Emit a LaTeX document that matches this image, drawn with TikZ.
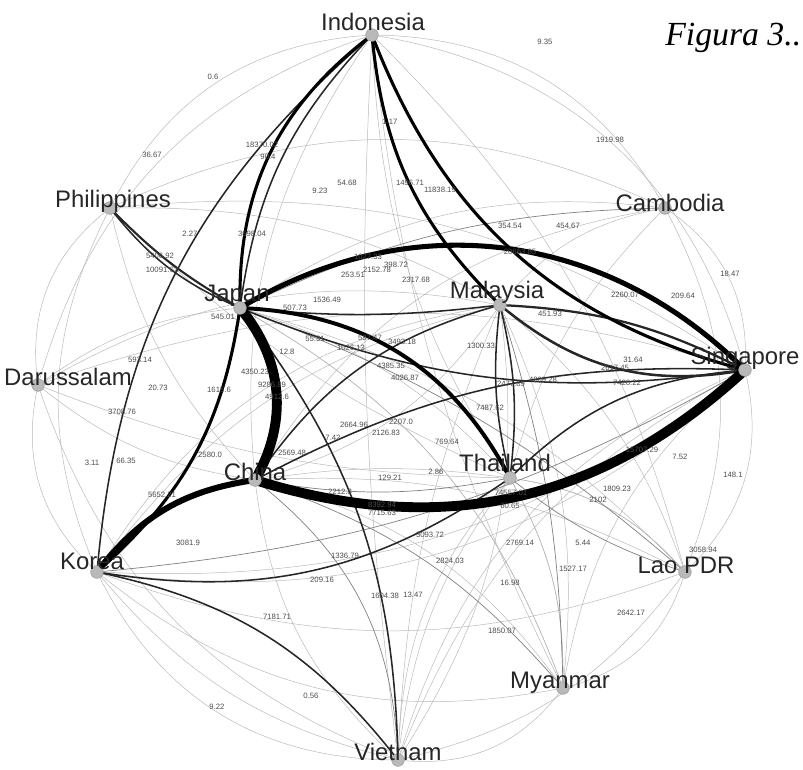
\documentclass[tikz,border=0pt]{standalone}
\usepackage{fontspec}
\setmainfont{Liberation Sans}
\newfontfamily\figfont{Liberation Serif}
\usetikzlibrary{positioning}
\tikzset{every picture/.style={
  line cap=round                % Rounded edge ends.
  }
}

\begin{document}
\begin{tikzpicture}[
    x=0.025cm, y=-0.025cm,
    country/.style={            % Grey dots marking the countries.
      circle,
      fill=gray!55,
      draw=gray!75,
      minimum size=9pt,
      inner sep=0pt
    },
    cname/.style={              % Country names.
      font=\fontsize{17}{20}\selectfont,
      text=black!85,
      inner sep=0pt
    },
    wlabel/.style={             % Small edge weights.
      font=\fontsize{5.5}{6}\selectfont,
      text=black!70,
      inner sep=0.3pt
    },
    tiefaint/.style={draw=black!28, line width=0.35pt},
    tielight/.style={draw=black!50, line width=0.5pt},
    tiemid/.style={draw=black!85, line width=1.1pt},
    tiestrong/.style={draw=black, line width=2.2pt},
    tieheavy/.style={draw=black, line width=3.6pt},
    tiehuge/.style={draw=black, line width=7pt}]

    \useasboundingbox (0,0) rectangle (803,770);

    % Where the countries sit.
    \coordinate (ind) at (372,35);
    \coordinate (cam) at (665,208);
    \coordinate (phi) at (110,208);
    \coordinate (jap) at (240,308);
    \coordinate (mal) at (500,305);
    \coordinate (dar) at (38,385);
    \coordinate (sin) at (745,370);
    \coordinate (chi) at (255,480);
    \coordinate (tha) at (510,478);
    \coordinate (kor) at (97,572);
    \coordinate (lao) at (685,572);
    \coordinate (mya) at (563,688);
    \coordinate (vie) at (398,760);

    % Weak flows.
    \foreach \s/\t/\b in {ind/phi/30, ind/dar/28, cam/ind/30, sin/ind/33,
        phi/dar/30, dar/kor/30, kor/vie/32, kor/vie/18, vie/mya/30,
        mya/lao/30, lao/sin/30, sin/cam/30, phi/kor/25, phi/chi/15,
        phi/mal/-15, phi/sin/-20, phi/tha/10, phi/cam/-25, dar/jap/-15,
        dar/chi/15, dar/mal/-20, dar/sin/-18, dar/tha/10, dar/vie/25,
        kor/mya/25, kor/lao/20, kor/sin/20, kor/mal/-20, vie/chi/-20,
        vie/tha/-15, vie/sin/-25, vie/lao/20, vie/mal/-10, mya/chi/20,
        mya/tha/15, mya/jap/20, mya/sin/-20, mya/mal/15, lao/chi/15,
        lao/tha/20, lao/jap/15, lao/mal/15, lao/cam/25, cam/mal/20,
        cam/jap/20, cam/chi/25, cam/tha/15, ind/chi/20, ind/tha/15,
        ind/mya/10, ind/vie/5, ind/lao/-15, jap/mya/-20, chi/tha/-8,
        jap/tha/-15, mal/chi/-20, mal/kor/25, sin/kor/-25, sin/vie/20,
        tha/lao/-20, tha/mya/-15, tha/vie/20, mal/vie/-20}
      \draw[tiefaint] (\s) to[bend right=\b] (\t);
    \foreach \s/\t/\b in {chi/vie/-25, kor/sin/12, jap/lao/-10,
        chi/mya/-15, tha/lao/10, jap/cam/-12, mal/mya/-8, chi/tha/10}
      \draw[tielight] (\s) to[bend right=\b] (\t);

    % Medium flows.
    \draw[tiemid] (ind) to[bend right=18] (jap);
    \draw[tiemid, line width=1.8pt] (mal) to[bend right=25] (sin);
    \draw[tiemid, line width=1.6pt] (mal) to[bend left=12] (sin);
    \draw[tiemid, line width=1.5pt] (phi) to[bend right=8] (jap);
    \draw[tiemid] (phi) to[bend right=14] (jap);
    \draw[tiemid] (kor) to[bend left=20] (vie);
    \draw[tiemid] (jap) to[bend left=18] (vie);
    \draw[tiemid] (ind) to[bend right=22] (kor);
    \draw[tiemid] (mal) to[bend left=10] (tha);
    \draw[tiemid] (mal) to[bend right=10] (tha);
    \draw[tiemid] (tha) to[bend left=20] (sin);
    \draw[tiemid] (chi) to[bend left=15] (sin);
    \draw[tiemid] (kor) to[bend right=22] (tha);
    \draw[tiemid] (jap) to[bend right=6] (mal);
    \draw[tiemid] (chi) to[bend left=20] (mal);
    \draw[tiemid] (jap) to[bend right=15] (sin);

    % Strong flows.
    \draw[tiestrong] (jap) to[bend left=20] (kor);
    \draw[tiestrong] (ind) to[bend right=27] (jap);
    \draw[tiestrong] (ind) to[bend right=27] (sin);
    \draw[tiestrong] (ind) to[bend right=20] (mal);
    \draw[tiestrong, line width=2.8pt] (jap) to[bend left=30] (tha);
    \draw[tieheavy] (jap) to[bend left=38] (sin);
    \draw[tieheavy, line width=4.3pt] (chi) to[bend right=22] (kor);
    \draw[tiehuge] (jap) to[bend left=35] (chi);
    \draw[tiehuge] (chi) to[bend right=30] (sin);

    % The country dots and names.
    \foreach \c in {ind,cam,phi,jap,mal,dar,sin,chi,tha,kor,lao,mya,vie}
      \node[country] (\c dot) at (\c) {};
    \node[cname] (indname) at (373,22)  {Indonesia};
    \node[cname] (camname) at (670,203) {Cambodia};
    \node[cname] (phiname) at (113,201) {Philippines};
    \node[cname] (japname) at (237,296) {Japan};
    \node[cname] (malname) at (497,292) {Malaysia};
    \node[cname] (darname) at (68,377)  {Darussalam};
    \node[cname] (sinname) at (745,358) {Singapore};
    \node[cname] (chiname) at (255,472) {China};
    \node[cname] (thaname) at (505,463) {Thailand};
    \node[cname] (korname) at (92,561)  {Korea};
    \node[cname] (laoname) at (686,565) {Lao PDR};
    \node[cname] (myaname) at (560,683) {Myanmar};
    \node[cname] (viename) at (398,752) {Vietnam};

    % Edge weights.
    \foreach \x/\y/\w [count=\i] in {213/77/0.6, 152/155/36.67,
        545/42/9.35, 610/140/1919.98, 262/145/18370.02, 268/157/90.4,
        390/122/1.17, 320/191/9.23, 347/183/54.68, 410/183/1496.71,
        440/190/11838.19, 190/234/2.27, 252/234/3698.04, 510/226/354.54,
        568/226/454.67, 160/256/5406.92, 162/270/10091.62, 353/275/253.51,
        377/270/2152.78, 368/257/1027.33, 396/265/398.72, 416/280/2317.68,
        520/252/20663.85, 625/295/2260.07, 683/296/209.64, 730/274/18.47,
        223/317/545.01, 295/308/507.73, 327/300/1536.49, 315/339/55.31,
        370/338/587.47, 351/348/1026.13, 402/342/3493.18, 287/352/12.8,
        550/314/451.93, 481/346/1300.33, 391/366/4385.35, 405/378/4026.87,
        633/360/31.64, 615/368/2617.45, 627/383/7426.22, 543/380/4809.28,
        511/384/2477.89, 490/408/7487.62, 140/360/593.14, 158/388/20.73,
        219/390/1615.6, 255/372/4350.23, 272/385/9286.89, 277/397/4912.6,
        122/412/3708.76, 354/425/2664.96, 401/422/2207.0, 333/438/7.42,
        386/433/2126.83, 447/442/769.64, 92/463/3.11, 126/461/66.35,
        210/455/2580.0, 292/453/2569.48, 436/472/2.86, 390/478/129.21,
        340/492/2212.8, 382/505/8392.94, 382/513/7715.63, 511/493/74557.01,
        642/450/15707.29, 680/457/7.52, 733/475/148.1, 617/489/1809.23,
        598/500/2102, 510/506/60.65, 430/535/3093.72, 520/543/2769.14,
        583/543/5.44, 450/561/2824.03, 573/569/1527.17, 510/583/16.98,
        413/595/13.47, 502/631/1850.07, 631/613/2642.17, 703/550/3058.94,
        162/495/5652.21, 188/543/3081.9, 345/556/1336.79, 322/580/209.16,
        385/596/1604.38, 277/617/7181.71, 311/696/0.56, 217/707/9.22}
      \node[wlabel] (w\i) at (\x,\y) {\w};

    % Caption fragment at the top right.
    \node[anchor=west, inner sep=0pt, font=\figfont\itshape\fontsize{24}{27}\selectfont]
      (figlbl) at (665,38) {Figura 3..};
\end{tikzpicture}
\end{document}
